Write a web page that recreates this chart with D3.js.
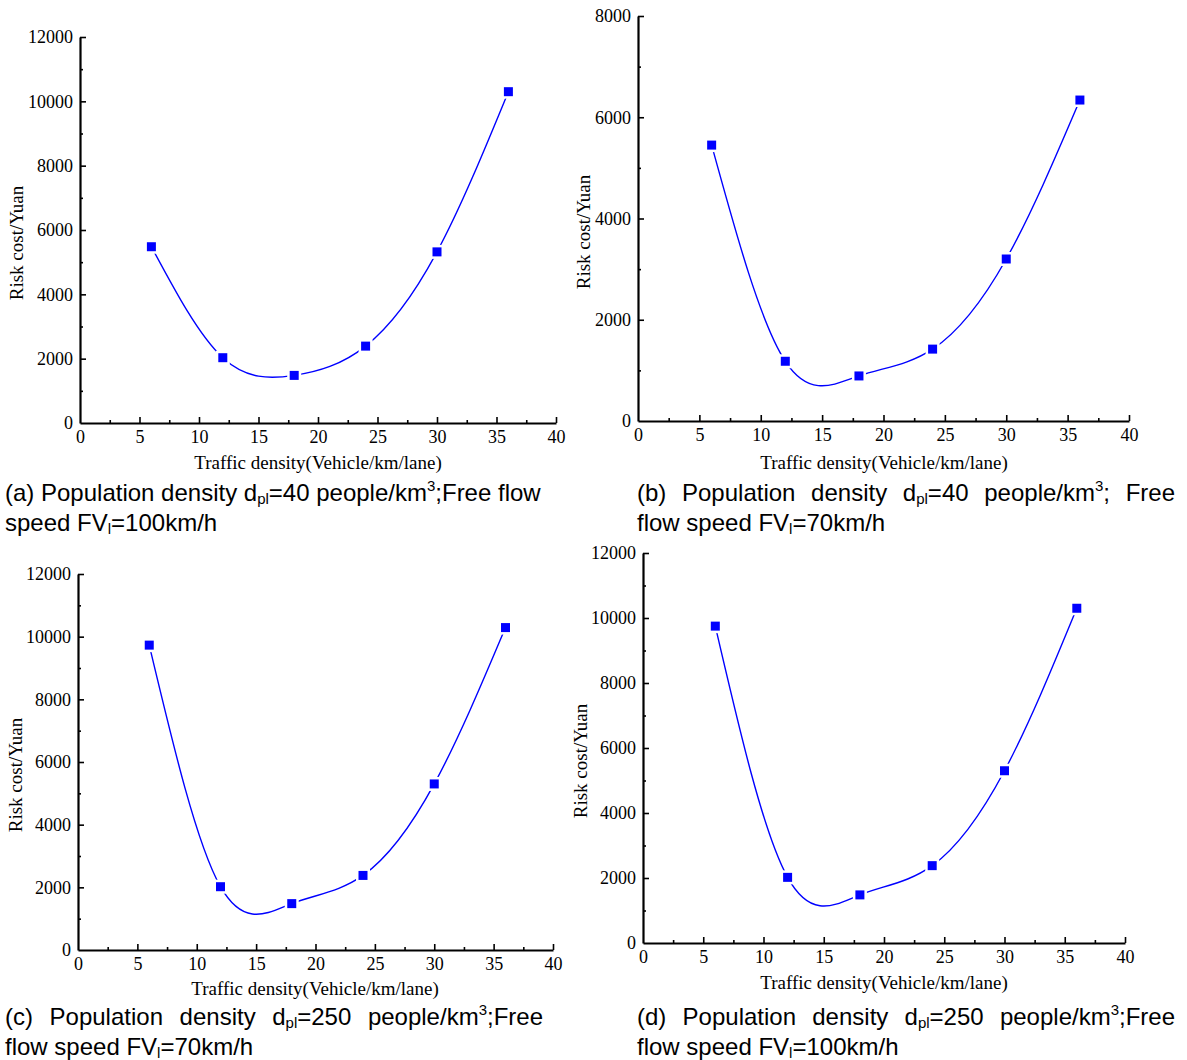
<!DOCTYPE html>
<html>
<head>
<meta charset="utf-8">
<script src="https://cdn.jsdelivr.net/npm/d3@7"></script>
<style>
  body { margin: 0; background: #fff; }
  #wrap { position: relative; width: 1187px; height: 1060px; overflow: hidden; }
  svg { position: absolute; left: 0; top: 0; }
  .cap {
    position: absolute;
    font-family: "Liberation Sans", Arial, sans-serif;
    font-size: 24px;
    line-height: 30px;
    color: #000;
    white-space: nowrap;
  }
  .cap.just { text-align: justify; text-align-last: justify; white-space: normal; }
  .cap sub { font-size: 15px; vertical-align: -3px; line-height: 0; }
  .cap sup { font-size: 15px; vertical-align: 10px; line-height: 0; }
  .axis text { font-family: "Liberation Serif", "Times New Roman", serif; font-size: 18px; fill: #000; }
  .axis path, .axis line { stroke: #000; }
  .lbl { font-family: "Liberation Serif", "Times New Roman", serif; font-size: 19px; fill: #000; }
</style>
</head>
<body>
<div id="wrap">
  <svg id="chart" width="1187" height="1060"></svg>
</div>
<script>
// traffic density (Vehicle/km/lane)
var density = [6, 12, 18, 24, 30, 36];

// risk cost (Yuan) per panel
var costA = [5480, 2030, 1480, 2390, 5320, 10300];
var costB = [5450, 1180, 890, 1420, 3200, 6340];
var costC = [9730, 2020, 1480, 2380, 5300, 10290];
var costD = [9750, 2020, 1480, 2380, 5300, 10300];

var xTicks = [0, 5, 10, 15, 20, 25, 30, 35, 40];
var yTicksBig = [0, 2000, 4000, 6000, 8000, 10000, 12000];
var yTicksSmall = [0, 2000, 4000, 6000, 8000];

var panels = [
  { id: "a", cost: costA, yMax: 12000, yTicks: yTicksBig, left: 80, right: 556, top: 37, bottom: 423,
    xl: [318, 469], yl: [23, 243] },
  { id: "b", cost: costB, yMax: 8000, yTicks: yTicksSmall, left: 638, right: 1129, top: 16, bottom: 421,
    xl: [884, 469], yl: [590, 232] },
  { id: "c", cost: costC, yMax: 12000, yTicks: yTicksBig, left: 78, right: 553, top: 574, bottom: 950,
    xl: [315, 995], yl: [22, 775] },
  { id: "d", cost: costD, yMax: 12000, yTicks: yTicksBig, left: 643, right: 1125, top: 553, bottom: 943,
    xl: [884, 989], yl: [587, 761] }
];

var svg = d3.select("#chart");

panels.forEach(function (p) {
  var g = svg.append("g");

  var x = d3.scaleLinear().domain([0, 40]).range([p.left, p.right]);
  var y = d3.scaleLinear().domain([0, p.yMax]).range([p.bottom, p.top]);

  // minor ticks
  var xMinor = d3.range(2.5, 40, 5);
  var step = p.yTicks[1] - p.yTicks[0];
  var yMinor = d3.range(step / 2, p.yMax, step);

  g.append("g")
    .attr("class", "axis")
    .attr("transform", "translate(0," + p.bottom + ")")
    .call(d3.axisBottom(x).tickValues(xMinor).tickFormat("").tickSizeInner(-3).tickSizeOuter(0))
    .call((s) => s.select(".domain").remove())
    .selectAll("line").attr("stroke-width", 1.6);

  g.append("g")
    .attr("class", "axis")
    .attr("transform", "translate(" + p.left + ",0)")
    .call(d3.axisLeft(y).tickValues(yMinor).tickFormat("").tickSizeInner(-3).tickSizeOuter(0))
    .call((s) => s.select(".domain").remove())
    .selectAll("line").attr("stroke-width", 1.6);

  // major axes
  var xa = g.append("g")
    .attr("class", "axis")
    .attr("transform", "translate(0," + p.bottom + ")")
    .call(d3.axisBottom(x).tickValues(xTicks).tickFormat(d3.format("d"))
      .tickSizeInner(-6).tickSizeOuter(0).tickPadding(7));
  xa.select(".domain").attr("stroke-width", 2.2);
  xa.selectAll("line").attr("stroke-width", 1.6);
  xa.selectAll(".tick").filter((d) => d === 0).select("line").remove();

  var ya = g.append("g")
    .attr("class", "axis")
    .attr("transform", "translate(" + p.left + ",0)")
    .call(d3.axisLeft(y).tickValues(p.yTicks).tickFormat(d3.format("d"))
      .tickSizeInner(-6).tickSizeOuter(0).tickPadding(7));
  ya.select(".domain").attr("stroke-width", 2.2);
  ya.selectAll("line").attr("stroke-width", 1.6);
  ya.selectAll(".tick").filter((d) => d === 0).select("line").remove();

  // axis titles
  g.append("text")
    .attr("class", "lbl")
    .attr("x", p.xl[0])
    .attr("y", p.xl[1])
    .attr("text-anchor", "middle")
    .text("Traffic density(Vehicle/km/lane)");

  g.append("text")
    .attr("class", "lbl")
    .attr("transform", "translate(" + p.yl[0] + "," + p.yl[1] + ") rotate(-90)")
    .attr("text-anchor", "middle")
    .text("Risk cost/Yuan");

  var pts = density.map((d, i) => [d, p.cost[i]]);

  var line = d3.line()
    .x((d) => x(d[0]))
    .y((d) => y(d[1]))
    .curve(d3.curveNatural);

  g.append("path")
    .datum(pts)
    .attr("d", line)
    .attr("fill", "none")
    .attr("stroke", "#0000ff")
    .attr("stroke-width", 1.4);

  var sz = 9;
  g.selectAll("rect.pt")
    .data(pts)
    .enter()
    .append("rect")
    .attr("class", "pt")
    .attr("x", (d) => x(d[0]) - sz / 2)
    .attr("y", (d) => y(d[1]) - sz / 2)
    .attr("width", sz)
    .attr("height", sz)
    .attr("fill", "#0000ff")
    .attr("stroke", "#fff")
    .attr("stroke-width", 5)
    .attr("paint-order", "stroke");
});

// captions, one div per line
var captions = [
  { left: 5, top: 478, width: 545, just: false,
    html: "(a) Population density d<sub>pl</sub>=40 people/km<sup>3</sup>;Free flow" },
  { left: 5, top: 508, width: 545, just: false,
    html: "speed FV<sub>l</sub>=100km/h" },
  { left: 637, top: 478, width: 538, just: true,
    html: "(b) Population density d<sub>pl</sub>=40 people/km<sup>3</sup>; Free" },
  { left: 637, top: 508, width: 538, just: false,
    html: "flow speed FV<sub>l</sub>=70km/h" },
  { left: 5, top: 1002, width: 538, just: true,
    html: "(c) Population density d<sub>pl</sub>=250 people/km<sup>3</sup>;Free" },
  { left: 5, top: 1032, width: 538, just: false,
    html: "flow speed FV<sub>l</sub>=70km/h" },
  { left: 637, top: 1002, width: 538, just: true,
    html: "(d) Population density d<sub>pl</sub>=250 people/km<sup>3</sup>;Free" },
  { left: 637, top: 1032, width: 538, just: false,
    html: "flow speed FV<sub>l</sub>=100km/h" }
];

d3.select("#wrap").selectAll("div.cap")
  .data(captions)
  .enter()
  .append("div")
  .attr("class", (d) => "cap" + (d.just ? " just" : ""))
  .style("left", (d) => d.left + "px")
  .style("top", (d) => d.top + "px")
  .style("width", (d) => d.width + "px")
  .html((d) => d.html);
</script>
</body>
</html>
